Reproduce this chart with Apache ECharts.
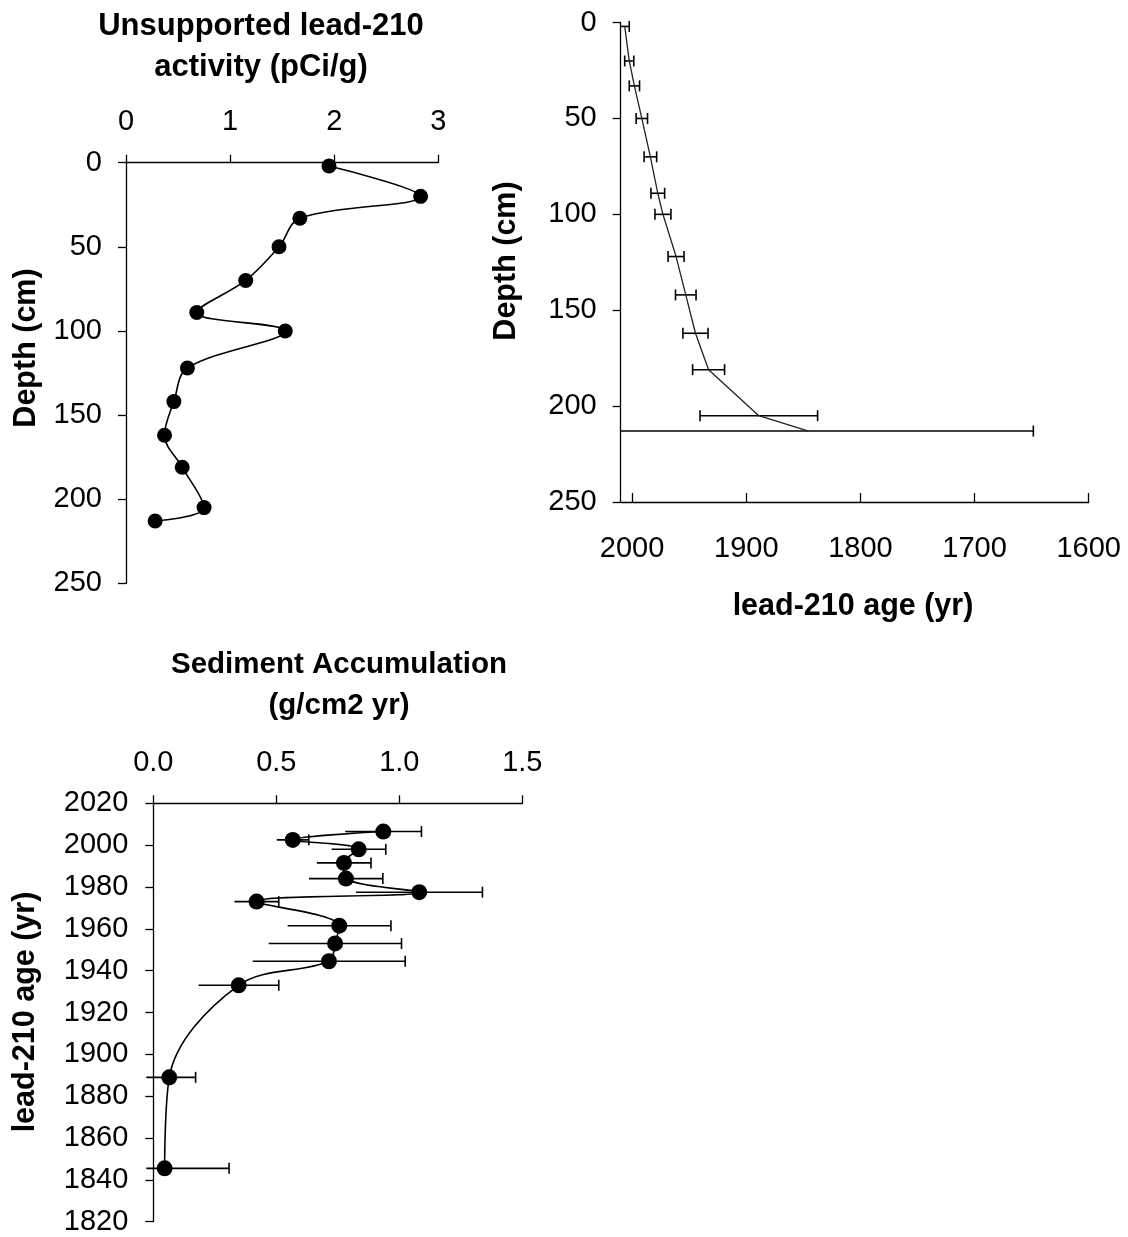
<!DOCTYPE html>
<html>
<head>
<meta charset="utf-8">
<script src="https://cdn.jsdelivr.net/npm/echarts@6/dist/echarts.min.js"></script>
<style>
html,body{margin:0;padding:0;background:#ffffff;}
#c{width:1128px;height:1237px;}
</style>
</head>
<body>
<div id="c"></div>
<script>
// ---- data ----
const depth        = [2, 20, 33, 50, 70, 89, 100, 122, 142, 162, 181, 205, 213];          // cm
const activity     = [1.95, 2.83, 1.67, 1.47, 1.15, 0.68, 1.53, 0.59, 0.46, 0.37, 0.54, 0.75, 0.28]; // pCi/g
const ages         = [2006.5, 2002.5, 1998, 1991.5, 1984, 1977.5, 1973, 1961.5, 1953, 1944.5, 1933, 1889, 1845.5]; // yr
const ageErr       = [4, 4, 4.5, 5, 5.5, 6, 7, 7, 9, 11, 14, 51.5, 197];                  // yr
const accumulation = [0.935, 0.567, 0.835, 0.775, 0.783, 1.081, 0.420, 0.756, 0.739, 0.714, 0.347, 0.065, 0.046]; // g/cm2 yr
const accumErr     = [0.155, 0.065, 0.11, 0.11, 0.15, 0.257, 0.09, 0.21, 0.27, 0.31, 0.163, 0.107, 0.262];

const activityTicks = [0, 1, 2, 3];
const depthTicks    = [0, 50, 100, 150, 200, 250];
const ageAxisTicks  = [2000, 1900, 1800, 1700, 1600];
const accumTicks    = [0.0, 0.5, 1.0, 1.5];
const yearTicks     = [2020, 2000, 1980, 1960, 1940, 1920, 1900, 1880, 1860, 1840, 1820];

const titleActivity = 'Unsupported lead-210\nactivity (pCi/g)';
const titleAccum    = 'Sediment Accumulation\n(g/cm2 yr)';
const nameDepth     = 'Depth (cm)';
const nameAge       = 'lead-210 age (yr)';

// ---- styling ----
const FONT = '"Liberation Sans", Arial, Helvetica, sans-serif';
const LBL = 29;
const BOLD = 30.5;
const INK = '#000000';
const plain = v => String(v);

function axisCommon(extra) {
  return Object.assign({
    type: 'value',
    splitLine: { show: false },
    axisLine: { show: true, onZero: false, lineStyle: { color: INK, width: 1.3 } },
    minorTick: { show: false }
  }, extra);
}
function lbl(margin, ticks, fmt) {
  return { color: INK, fontFamily: FONT, fontSize: LBL, margin: margin, customValues: ticks, formatter: fmt || plain };
}
function tk(ticks, inside, len) {
  return { show: true, inside: !!inside, length: len || 8, lineStyle: { color: INK, width: 1.3 }, customValues: ticks };
}

function errorBars(name, xi, yi, xs, ys, errs, leftCap, overhang) {
  return {
    type: 'custom',
    name: name,
    xAxisIndex: xi,
    yAxisIndex: yi,
    clip: false,
    z: 1,
    data: xs.map((v, i) => [v, ys[i], errs[i]]),
    renderItem: function (params, api) {
      const x = api.value(0), y = api.value(1), e = api.value(2);
      const p1 = api.coord([x - e, y]);
      const p2 = api.coord([x + e, y]);
      const cs = params.coordSys;
      let a = Math.min(p1[0], p2[0]);
      let b = Math.max(p1[0], p2[0]);
      const py = p1[1];
      const lim = cs.x - overhang;
      let aCap = leftCap;
      if (a < lim) { a = lim; aCap = false; }
      const h = 5.5;
      const style = { stroke: INK, lineWidth: 1.6, fill: null };
      const children = [
        { type: 'line', shape: { x1: a, y1: py, x2: b, y2: py }, style: style },
        { type: 'line', shape: { x1: b, y1: py - h, x2: b, y2: py + h }, style: style }
      ];
      if (aCap) children.push({ type: 'line', shape: { x1: a, y1: py - h, x2: a, y2: py + h }, style: style });
      return { type: 'group', children: children };
    }
  };
}

const chart = echarts.init(document.getElementById('c'), null, { renderer: 'canvas' });

const option = {
  backgroundColor: '#ffffff',
  animation: false,
  textStyle: { fontFamily: FONT },
  grid: [
    { left: 126, top: 162.7, width: 312.3, height: 420.6, containLabel: false },
    { left: 620.7, top: 22.6, width: 468, height: 479.4, containLabel: false },
    { left: 153.3, top: 803.3, width: 369, height: 418.4, containLabel: false }
  ],
  xAxis: [
    axisCommon({ gridIndex: 0, position: 'top', min: 0, max: 3, interval: 1,
      axisLabel: lbl(26, activityTicks), axisTick: tk(activityTicks) }),
    axisCommon({ gridIndex: 1, position: 'bottom', min: 1600, max: 2010, interval: 100, inverse: true,
      axisLabel: lbl(32, ageAxisTicks), axisTick: tk(ageAxisTicks, true, 9) }),
    axisCommon({ gridIndex: 2, position: 'top', min: 0, max: 1.5, interval: 0.5,
      axisLabel: lbl(26, accumTicks, v => Number(v).toFixed(1)), axisTick: tk(accumTicks) })
  ],
  yAxis: [
    axisCommon({ gridIndex: 0, min: 0, max: 250, interval: 50, inverse: true,
      axisLabel: lbl(24, depthTicks), axisTick: tk(depthTicks) }),
    axisCommon({ gridIndex: 1, min: 0, max: 250, interval: 50, inverse: true,
      axisLabel: lbl(24, depthTicks), axisTick: tk(depthTicks) }),
    axisCommon({ gridIndex: 2, min: 1820, max: 2020, interval: 20,
      axisLabel: lbl(25, yearTicks), axisTick: tk(yearTicks) })
  ],
  series: [
    {
      type: 'line', name: 'activity', xAxisIndex: 0, yAxisIndex: 0,
      data: activity.map((v, i) => [v, depth[i]]),
      smooth: 0.35, symbol: 'circle', symbolSize: 15,
      itemStyle: { color: INK }, lineStyle: { color: INK, width: 1.6 }, z: 3
    },
    errorBars('age error', 1, 1, ages, depth, ageErr, true, 0),
    {
      type: 'line', name: 'age', xAxisIndex: 1, yAxisIndex: 1,
      data: ages.map((v, i) => [v, depth[i]]),
      smooth: false, showSymbol: false, symbol: 'none',
      lineStyle: { color: '#222222', width: 1.3 }, z: 3
    },
    errorBars('accumulation error', 2, 2, accumulation, ages, accumErr, false, 7),
    {
      type: 'line', name: 'accumulation', xAxisIndex: 2, yAxisIndex: 2,
      data: accumulation.map((v, i) => [v, ages[i]]),
      smooth: 0.35, symbol: 'circle', symbolSize: 16,
      itemStyle: { color: INK }, lineStyle: { color: INK, width: 1.6 }, z: 3
    }
  ],
  graphic: [
    { type: 'text', x: 261, y: 47, style: { text: titleActivity, font: 'bold 31px ' + FONT, fill: INK, align: 'center', verticalAlign: 'middle', lineHeight: 41 } },
    { type: 'text', x: 27, y: 348, rotation: Math.PI / 2, style: { text: nameDepth, font: 'bold ' + BOLD + 'px ' + FONT, fill: INK, align: 'center', verticalAlign: 'middle' } },
    { type: 'text', x: 507, y: 261, rotation: Math.PI / 2, style: { text: nameDepth, font: 'bold ' + BOLD + 'px ' + FONT, fill: INK, align: 'center', verticalAlign: 'middle' } },
    { type: 'text', x: 853, y: 607, style: { text: nameAge, font: 'bold ' + BOLD + 'px ' + FONT, fill: INK, align: 'center', verticalAlign: 'middle' } },
    { type: 'text', x: 339, y: 685, style: { text: titleAccum, font: 'bold 29.5px ' + FONT, fill: INK, align: 'center', verticalAlign: 'middle', lineHeight: 41 } },
    { type: 'text', x: 26, y: 1012, rotation: Math.PI / 2, style: { text: nameAge, font: 'bold ' + BOLD + 'px ' + FONT, fill: INK, align: 'center', verticalAlign: 'middle' } }
  ]
};

chart.setOption(option);
</script>
</body>
</html>
